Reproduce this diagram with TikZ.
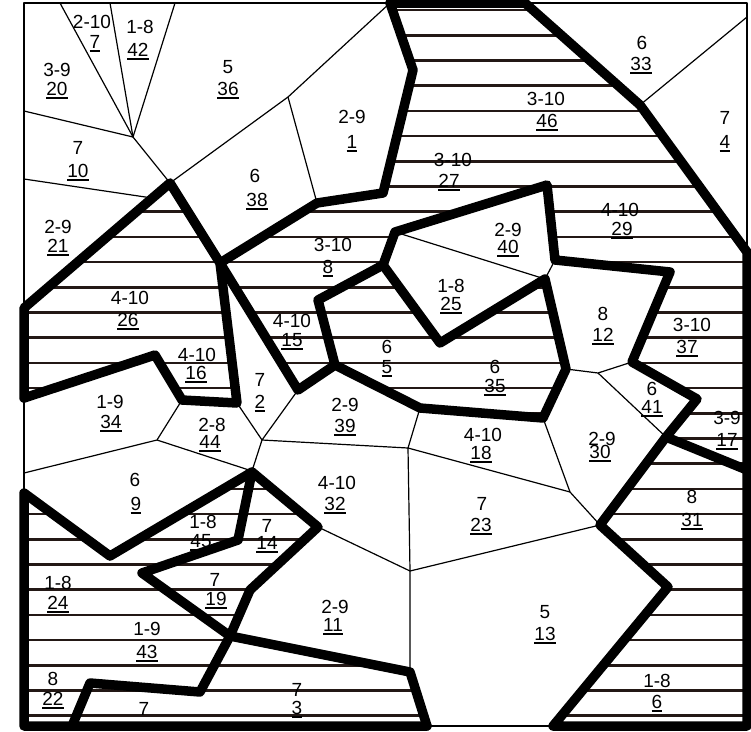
\documentclass[tikz,border=0pt]{standalone}
\usepackage{fontspec}
\setmainfont{Liberation Sans}
\definecolor{hatchcol}{RGB}{35,24,21}
\newcommand\ulnum[1]{\setbox0\hbox{#1}\rlap{\rule[-2.8pt]{\wd0}{1.7pt}}\box0}
\newcommand\lb[4]{\node[lab] (#1) at ({#2},{#3+6.8}) {#4};}
\begin{document}
\begin{tikzpicture}[x=1pt,y=-1pt,
  thinline/.style={line width=1.2pt, line join=round},
  thickline/.style={line width=9.5pt, line join=round, line cap=round},
  hatchline/.style={line width=2.6pt, color=hatchcol},
  whitefill/.style={fill=white, draw=none},
  lab/.style={anchor=base, inner sep=0pt, font=\fontsize{19}{22}\selectfont}]
\useasboundingbox (0,0) rectangle (751,731);
% hatching everywhere inside the frame
\foreach \k in {0,...,28}{
  \draw[hatchline] (24,{10+25.2*\k}) -- (747,{10+25.2*\k});
}
% white (non hatched) regions
\path[whitefill] (24,3) -- (390,3) -- (413,70) -- (383,193) -- (317,203) -- (220,263) -- (170,183) -- (24,308) -- cycle;
\path[whitefill] (525,3) -- (747,3) -- (747,252) -- (640,105) -- cycle;
\path[whitefill] (395,232) -- (547,185) -- (555,260) -- (545,279) -- cycle;
\path[whitefill] (395,232) -- (545,279) -- (440,343) -- (383,265) -- cycle;
\path[whitefill] (555,260) -- (670,272) -- (632,362) -- (598,373) -- (566,369) -- (545,279) -- cycle;
\path[whitefill] (632,362) -- (697,399) -- (666,437) -- (598,373) -- cycle;
\path[whitefill] (566,369) -- (598,373) -- (666,437) -- (600,525) -- (570,492) -- (543,418) -- cycle;
\path[whitefill] (420,408) -- (543,418) -- (570,492) -- (408,448) -- cycle;
\path[whitefill] (298,390) -- (335,365) -- (420,408) -- (408,448) -- (262,440) -- cycle;
\path[whitefill] (220,263) -- (298,390) -- (262,440) -- (237,403) -- cycle;
\path[whitefill] (182,400) -- (237,403) -- (262,440) -- (252,471) -- (157,440) -- cycle;
\path[whitefill] (24,398) -- (155,355) -- (182,400) -- (157,440) -- (24,473) -- cycle;
\path[whitefill] (24,473) -- (157,440) -- (252,471) -- (110,556) -- (24,493) -- cycle;
\path[whitefill] (262,440) -- (408,448) -- (410,571) -- (318,527) -- (252,471) -- cycle;
\path[whitefill] (408,448) -- (570,492) -- (600,525) -- (410,571) -- cycle;
\path[whitefill] (318,527) -- (410,571) -- (410,672) -- (229,635) -- (250,590) -- cycle;
\path[whitefill] (410,571) -- (600,525) -- (668,587) -- (553,726) -- (427,726) -- (410,672) -- cycle;
% frame
\draw[thinline] (24,3) rectangle (747,726);
% thin boundaries
\draw[thinline] (24,111) -- (133,137);
\draw[thinline] (24,179) -- (152,198);
\draw[thinline] (60,3) -- (133,137);
\draw[thinline] (110,3) -- (133,137);
\draw[thinline] (175,3) -- (133,137) -- (170,183);
\draw[thinline] (170,183) -- (288,97) -- (390,3);
\draw[thinline] (288,97) -- (317,203);
\draw[thinline] (640,105) -- (747,17);
\draw[thinline] (395,232) -- (545,279) -- (555,260);
\draw[thinline] (632,362) -- (598,373) -- (566,369);
\draw[thinline] (598,373) -- (666,437);
\draw[thinline] (543,418) -- (570,492) -- (600,525);
\draw[thinline] (420,408) -- (408,448) -- (570,492);
\draw[thinline] (408,448) -- (262,440) -- (298,390);
\draw[thinline] (262,440) -- (237,403);
\draw[thinline] (262,440) -- (252,471);
\draw[thinline] (182,400) -- (157,440) -- (24,473);
\draw[thinline] (157,440) -- (252,471);
\draw[thinline] (408,448) -- (410,571) -- (410,672);
\draw[thinline] (410,571) -- (600,525);
\draw[thinline] (318,527) -- (410,571);
% thick boundaries
\draw[thickline] (390,3) -- (525,3) -- (640,105) -- (747,252) -- (747,726) -- (553,726) -- (668,587) -- (600,525) -- (666,437) -- (697,399) -- (632,362) -- (670,272) -- (555,260) -- (547,185) -- (395,232) -- (383,265) -- (318,300) -- (335,365) -- (298,390) -- (220,263) -- (317,203) -- (383,193) -- (413,70) -- cycle;
\draw[thickline] (155,355) -- (24,398) -- (24,308) -- (170,183) -- (220,263) -- (237,403) -- (182,400) -- cycle;
\draw[thickline] (335,365) -- (420,408) -- (543,418) -- (566,369) -- (545,279) -- (440,343) -- (383,265);
\draw[thickline] (666,437) -- (747,470);
\draw[thickline] (427,726) -- (24,726) -- (24,493) -- (110,556) -- (252,472) -- (318,527) -- (250,590) -- (230,636) -- (200,692) -- (90,683) -- (72,726);
\draw[thickline] (252,472) -- (238,540) -- (142,573) -- (230,636) -- (410,672) -- (427,726);
% labels
\lb{a1}{92}{22}{2-10}   \lb{b1}{95}{42}{\ulnum{7}}
\lb{a2}{140}{27}{1-8}   \lb{b2}{138}{50}{\ulnum{42}}
\lb{a3}{57}{70}{3-9}    \lb{b3}{57}{89}{\ulnum{20}}
\lb{a4}{228}{67}{5}     \lb{b4}{228}{89}{\ulnum{36}}
\lb{a5}{78}{148}{7}     \lb{b5}{78}{171}{\ulnum{10}}
\lb{a6}{58}{227}{2-9}   \lb{b6}{58}{246}{\ulnum{21}}
\lb{a7}{255}{176}{6}    \lb{b7}{257}{200}{\ulnum{38}}
\lb{a8}{352}{117}{2-9}  \lb{b8}{352}{142}{\ulnum{1}}
\lb{a9}{453}{160}{3-10} \lb{b9}{449}{181}{\ulnum{27}}
\lb{a10}{642}{43}{6}    \lb{b10}{641}{64}{\ulnum{33}}
\lb{a11}{546}{99}{3-10} \lb{b11}{547}{121}{\ulnum{46}}
\lb{a12}{725}{118}{7}   \lb{b12}{725}{142}{\ulnum{4}}
\lb{a13}{620}{210}{4-10} \lb{b13}{622}{229}{\ulnum{29}}
\lb{a14}{508}{230}{2-9} \lb{b14}{508}{247}{\ulnum{40}}
\lb{a15}{333}{245}{3-10} \lb{b15}{328}{267}{\ulnum{8}}
\lb{a16}{130}{298}{4-10} \lb{b16}{128}{320}{\ulnum{26}}
\lb{a17}{197}{355}{4-10} \lb{b17}{196}{373}{\ulnum{16}}
\lb{a18}{110}{402}{1-9} \lb{b18}{111}{422}{\ulnum{34}}
\lb{a19}{212}{425}{2-8} \lb{b19}{210}{442}{\ulnum{44}}
\lb{a20}{135}{480}{6}   \lb{b20}{136}{504}{\ulnum{9}}
\lb{a21}{260}{380}{7}   \lb{b21}{260}{402}{\ulnum{2}}
\lb{a22}{292}{321}{4-10} \lb{b22}{292}{340}{\ulnum{15}}
\lb{a23}{387}{347}{6}   \lb{b23}{387}{367}{\ulnum{5}}
\lb{a24}{451}{286}{1-8} \lb{b24}{451}{304}{\ulnum{25}}
\lb{a25}{345}{405}{2-9} \lb{b25}{345}{426}{\ulnum{39}}
\lb{a26}{495}{367}{6}   \lb{b26}{495}{386}{\ulnum{35}}
\lb{a27}{483}{435}{4-10} \lb{b27}{481}{453}{\ulnum{18}}
\lb{a28}{603}{314}{8}   \lb{b28}{603}{335}{\ulnum{12}}
\lb{a29}{692}{325}{3-10} \lb{b29}{687}{347}{\ulnum{37}}
\lb{a30}{652}{389}{6}   \lb{b30}{652}{407}{\ulnum{41}}
\lb{a31}{727}{418}{3-9} \lb{b31}{727}{440}{\ulnum{17}}
\lb{a32}{602}{439}{2-9} \lb{b32}{600}{452}{\ulnum{30}}
\lb{a33}{203}{522}{1-8} \lb{b33}{201}{541}{\ulnum{45}}
\lb{a34}{267}{526}{7}   \lb{b34}{267}{543}{\ulnum{14}}
\lb{a35}{215}{580}{7}   \lb{b35}{216}{599}{\ulnum{19}}
\lb{a36}{58}{583}{1-8}  \lb{b36}{58}{603}{\ulnum{24}}
\lb{a37}{147}{629}{1-9} \lb{b37}{147}{652}{\ulnum{43}}
\lb{a38}{53}{679}{8}    \lb{b38}{53}{699}{\ulnum{22}}
\lb{a39}{144}{709}{7}
\lb{a40}{337}{483}{4-10} \lb{b40}{335}{504}{\ulnum{32}}
\lb{a41}{482}{504}{7}   \lb{b41}{481}{525}{\ulnum{23}}
\lb{a42}{335}{607}{2-9} \lb{b42}{333}{625}{\ulnum{11}}
\lb{a43}{297}{690}{7}   \lb{b43}{297}{708}{\ulnum{3}}
\lb{a44}{692}{497}{8}   \lb{b44}{692}{520}{\ulnum{31}}
\lb{a45}{545}{612}{5}   \lb{b45}{545}{634}{\ulnum{13}}
\lb{a46}{657}{681}{1-8} \lb{b46}{657}{702}{\ulnum{6}}
\end{tikzpicture}
\end{document}
